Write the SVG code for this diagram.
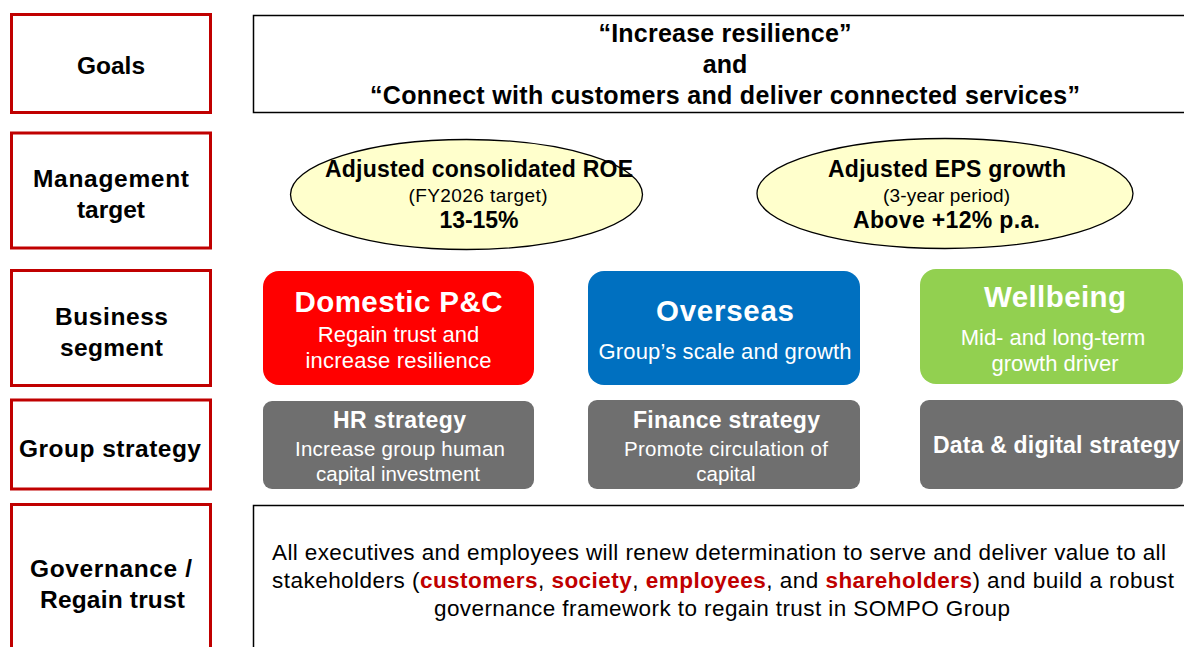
<svg xmlns="http://www.w3.org/2000/svg" width="1184" height="647" viewBox="0 0 1184 647">
  <style>
    text { font-family: "Liberation Sans", Arial, sans-serif; text-anchor: middle; }
    .label-box { fill: #FFFFFF; stroke: #C00000; stroke-width: 3; }
    .label { font-size: 24.5px; font-weight: bold; fill: #000000; }
    .frame { fill: #FFFFFF; stroke: #000000; stroke-width: 1.5; }
    .goal { font-size: 25px; font-weight: bold; fill: #000000; }
    .target { fill: #FFFFCC; stroke: #000000; stroke-width: 1.3; }
    .t-big { font-size: 23px; font-weight: bold; fill: #000000; }
    .t-small { font-size: 19px; fill: #000000; }
    .seg-title { font-size: 29.5px; font-weight: bold; fill: #FFFFFF; }
    .seg-sub { font-size: 22px; fill: #FFFFFF; }
    .strat { fill: #6F6F6F; }
    .strat-title { font-size: 23px; font-weight: bold; fill: #FFFFFF; }
    .strat-sub { font-size: 20.5px; fill: #FFFFFF; }
    .gov { font-size: 22.5px; fill: #000000; }
    .hl { font-weight: bold; fill: #C00000; }
  </style>

  <!-- Row labels -->
  <g id="label-goals">
    <rect class="label-box" x="11.5" y="14.5" width="199" height="98"/>
    <text class="label" x="111" y="74">Goals</text>
  </g>
  <g id="label-management-target">
    <rect class="label-box" x="11.5" y="133" width="199" height="115"/>
    <text class="label" x="111" y="187" textLength="156" lengthAdjust="spacing">Management</text>
    <text class="label" x="111" y="218">target</text>
  </g>
  <g id="label-business-segment">
    <rect class="label-box" x="11.5" y="270.5" width="199" height="115"/>
    <text class="label" x="111.5" y="325" textLength="113" lengthAdjust="spacing">Business</text>
    <text class="label" x="111.5" y="356" textLength="103" lengthAdjust="spacing">segment</text>
  </g>
  <g id="label-group-strategy">
    <rect class="label-box" x="11.5" y="400" width="199" height="89"/>
    <text class="label" x="110" y="457" textLength="182" lengthAdjust="spacing">Group strategy</text>
  </g>
  <g id="label-governance">
    <rect class="label-box" x="11.5" y="504.5" width="199" height="150"/>
    <text class="label" x="111" y="577" textLength="162" lengthAdjust="spacing">Governance /</text>
    <text class="label" x="112.5" y="608" textLength="145" lengthAdjust="spacing">Regain trust</text>
  </g>

  <!-- Goals -->
  <g id="goals">
    <rect class="frame" x="253.5" y="15.5" width="950" height="97"/>
    <text class="goal" x="725" y="42" textLength="253" lengthAdjust="spacing">“Increase resilience”</text>
    <text class="goal" x="725" y="73">and</text>
    <text class="goal" x="725" y="104" textLength="710" lengthAdjust="spacing">“Connect with customers and deliver connected services”</text>
  </g>

  <!-- Management targets -->
  <g id="target-roe">
    <ellipse class="target" cx="466.5" cy="194.5" rx="176" ry="55"/>
    <text class="t-big" x="479" y="177" textLength="308" lengthAdjust="spacing">Adjusted consolidated ROE</text>
    <text class="t-small" x="478" y="202" textLength="139" lengthAdjust="spacing">(FY2026 target)</text>
    <text class="t-big" x="479" y="228" textLength="79" lengthAdjust="spacing">13-15%</text>
  </g>
  <g id="target-eps">
    <ellipse class="target" cx="945" cy="193.5" rx="188" ry="55"/>
    <text class="t-big" x="947" y="177" textLength="238" lengthAdjust="spacing">Adjusted EPS growth</text>
    <text class="t-small" x="946.5" y="202" textLength="127" lengthAdjust="spacing">(3-year period)</text>
    <text class="t-big" x="946.5" y="228" textLength="187" lengthAdjust="spacing">Above +12% p.a.</text>
  </g>

  <!-- Business segments -->
  <g id="segment-domestic">
    <rect x="263" y="271" width="271" height="114" rx="16" fill="#FF0000"/>
    <text class="seg-title" x="398.5" y="312" textLength="208" lengthAdjust="spacing">Domestic P&amp;C</text>
    <text class="seg-sub" x="398.5" y="342">Regain trust and</text>
    <text class="seg-sub" x="398.5" y="368" textLength="186" lengthAdjust="spacing">increase resilience</text>
  </g>
  <g id="segment-overseas">
    <rect x="588" y="271" width="272" height="114" rx="16" fill="#0070C0"/>
    <text class="seg-title" x="725" y="321" textLength="138" lengthAdjust="spacing">Overseas</text>
    <text class="seg-sub" x="725" y="359" textLength="253" lengthAdjust="spacing">Group’s scale and growth</text>
  </g>
  <g id="segment-wellbeing">
    <rect x="920" y="269" width="263" height="115" rx="16" fill="#92D050"/>
    <text class="seg-title" x="1055" y="307" textLength="142" lengthAdjust="spacing">Wellbeing</text>
    <text class="seg-sub" x="1053" y="345">Mid- and long-term</text>
    <text class="seg-sub" x="1055" y="371">growth driver</text>
  </g>

  <!-- Group strategies -->
  <g id="strategy-hr">
    <rect class="strat" x="263" y="401" width="271" height="88" rx="9"/>
    <text class="strat-title" x="399.5" y="428" textLength="133" lengthAdjust="spacing">HR strategy</text>
    <text class="strat-sub" x="400" y="456" textLength="210" lengthAdjust="spacing">Increase group human</text>
    <text class="strat-sub" x="398" y="481" textLength="164" lengthAdjust="spacing">capital investment</text>
  </g>
  <g id="strategy-finance">
    <rect class="strat" x="588" y="400" width="272" height="89" rx="9"/>
    <text class="strat-title" x="726.5" y="428" textLength="187" lengthAdjust="spacing">Finance strategy</text>
    <text class="strat-sub" x="726" y="456" textLength="204" lengthAdjust="spacing">Promote circulation of</text>
    <text class="strat-sub" x="726" y="481">capital</text>
  </g>
  <g id="strategy-data-digital">
    <rect class="strat" x="920" y="400" width="263" height="89" rx="9"/>
    <text class="strat-title" x="1056.5" y="453" textLength="247" lengthAdjust="spacing">Data &amp; digital strategy</text>
  </g>

  <!-- Governance -->
  <g id="governance">
    <rect class="frame" x="253.5" y="505.5" width="950" height="150"/>
    <text class="gov" x="719" y="560" textLength="894" lengthAdjust="spacing">All executives and employees will renew determination to serve and deliver value to all</text>
    <text class="gov" x="723" y="588" textLength="902" lengthAdjust="spacing">stakeholders (<tspan class="hl">customers</tspan>, <tspan class="hl">society</tspan>, <tspan class="hl">employees</tspan>, and <tspan class="hl">shareholders</tspan>) and build a robust</text>
    <text class="gov" x="722" y="616" textLength="576" lengthAdjust="spacing">governance framework to regain trust in SOMPO Group</text>
  </g>

  <!-- No connectors are drawn between the rows -->
  <g id="connectors"/>
</svg>
